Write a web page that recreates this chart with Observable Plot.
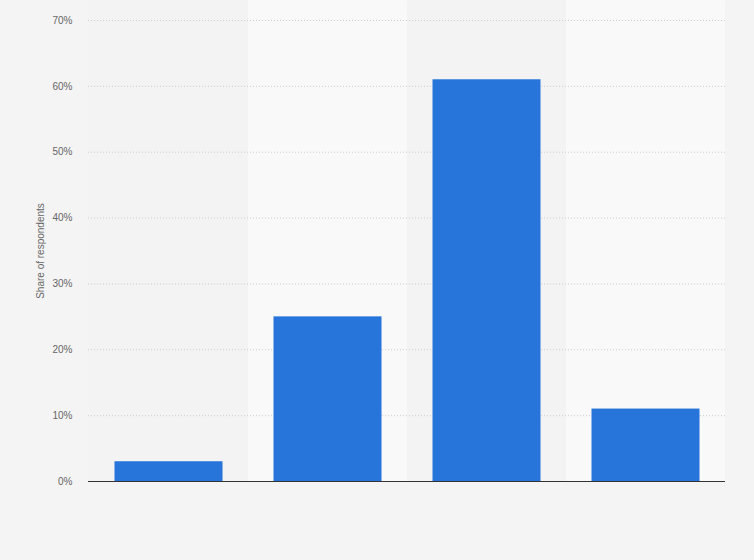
<!DOCTYPE html>
<html>
<head>
<meta charset="utf-8">
<script src="https://cdn.jsdelivr.net/npm/d3@7"></script>
<script src="https://cdn.jsdelivr.net/npm/@observablehq/plot@0.6"></script>
<style>
  html, body { margin: 0; padding: 0; background: #f4f4f4; }
  #chart svg { display: block; }
</style>
</head>
<body>
<div id="chart"></div>
<script>
// Categories (no labels visible in the reference)
const categories = ["Category 1", "Category 2", "Category 3", "Category 4"];
// Share of respondents (%)
const shares = [3, 25, 61, 11];
// Y-axis ticks (%)
const yTicks = [0, 10, 20, 30, 40, 50, 60, 70];
const yLabel = "Share of respondents";
// Column shading (alternating)
const bandFill = ["#f3f3f3", "#f9f9f9", "#f3f3f3", "#f9f9f9"];
const bandTop = 73;

const bars = categories.map((c, i) => ({category: c, share: shares[i]}));
const bands = categories.map((c, i) => ({category: c, top: bandTop, fill: bandFill[i]}));

const chart = Plot.plot({
  width: 754,
  height: 560,
  marginLeft: 88,
  marginRight: 29,
  marginTop: 20,
  marginBottom: 79,
  style: {background: "#f4f4f4", fontFamily: "'Liberation Sans', Arial, sans-serif", fontSize: "10px", color: "#666"},
  x: {domain: categories, padding: 0, axis: null},
  y: {domain: [0, 70], ticks: yTicks, label: null},
  marks: [
    Plot.barY(bands, {x: "category", y1: 0, y2: "top", fill: "fill"}),
    Plot.gridY(yTicks, {stroke: "#cccccc", strokeOpacity: 1, strokeDasharray: "1,2"}),
    Plot.barY(bars, {x: "category", y: "share", fill: "#2775db", insetLeft: 25.5, insetRight: 25.5}),
    Plot.ruleY([0], {stroke: "#333", strokeWidth: 1}),
    Plot.axisY(yTicks, {tickSize: 0, tickPadding: 16, tickFormat: d => d + "%", fill: "#666", fontSize: 10, label: null}),
    Plot.text([yLabel], {frameAnchor: "left", textAnchor: "middle", rotate: -90, dx: -48, fill: "#666", fontSize: 10})
  ]
});
document.getElementById("chart").appendChild(chart);
</script>
</body>
</html>
